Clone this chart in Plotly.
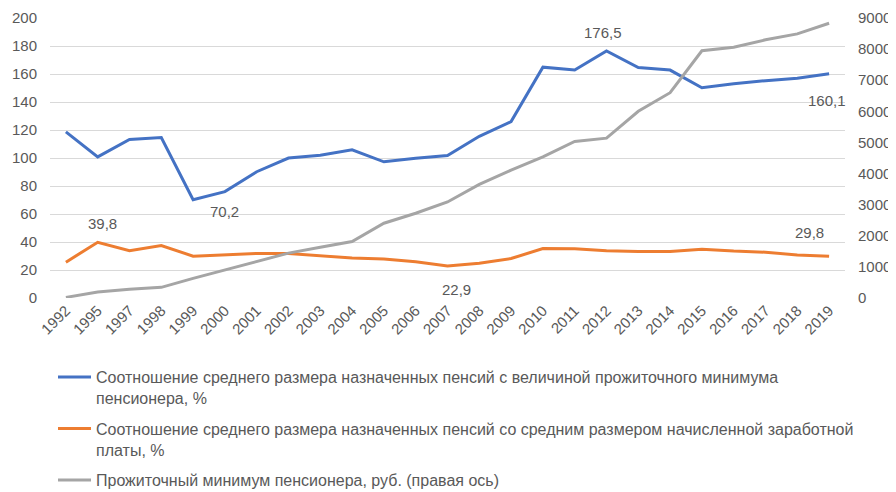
import plotly.graph_objects as go

years = ["1992", "1995", "1997", "1998", "1999", "2000", "2001", "2002", "2003",
         "2004", "2005", "2006", "2007", "2008", "2009", "2010", "2011", "2012",
         "2013", "2014", "2015", "2016", "2017", "2018", "2019"]

pension_to_minimum = [118.7, 100.8, 113.2, 114.6, 70.2, 76.0, 90.2, 100.0, 102.0,
                      105.8, 97.3, 99.9, 101.8, 115.5, 126.0, 164.9, 162.8, 176.5,
                      164.6, 162.8, 150.2, 153.0, 155.2, 157.0, 160.1]

pension_to_wage = [25.6, 39.8, 33.7, 37.5, 29.9, 31.1, 31.8, 31.8, 29.9,
                   28.5, 27.8, 25.9, 22.9, 24.9, 28.2, 35.3, 35.1, 33.7,
                   33.2, 33.2, 34.9, 33.5, 32.7, 30.8, 29.8]

subsistence_minimum = [20, 192, 278, 342, 630, 908, 1175, 1442, 1634,
                       1816, 2403, 2723, 3086, 3652, 4111, 4538, 5030, 5137,
                       6002, 6600, 7946, 8063, 8298, 8490, 8832]

legend_names = [
    "Соотношение среднего размера назначенных пенсий с величиной прожиточного минимума<br>пенсионера, %",
    "Соотношение среднего размера назначенных пенсий со средним размером начисленной заработной<br>платы, %",
    "Прожиточный минимум пенсионера, руб. (правая ось)",
]

# data labels: (series, index, text, x shift, y shift)
point_labels = [
    ("wage", 1, "39,8", 5, 19),
    ("min", 4, "70,2", 31, -12),
    ("min", 17, "176,5", -4, 18),
    ("min", 24, "160,1", -2, -27),
    ("wage", 12, "22,9", 9, -24),
    ("wage", 24, "29,8", -20, 24),
]

TEXT = "#595959"
FONT = "Liberation Sans"
# the page body keeps its default 8px margin, so the figure is 8px smaller
W, H = 888, 484
M_L, M_R, M_T, M_B = 42, 51, 10, 194

fig = go.Figure()
fig.add_trace(go.Scatter(x=years, y=pension_to_minimum, mode="lines",
                         name=legend_names[0], legendgroup="a",
                         line=dict(color="#4472C4", width=3)))
fig.add_trace(go.Scatter(x=years, y=pension_to_wage, mode="lines",
                         name=legend_names[1], legendgroup="b",
                         line=dict(color="#ED7D31", width=3)))
fig.add_trace(go.Scatter(x=years, y=subsistence_minimum, mode="lines",
                         name=legend_names[2], legendgroup="c", yaxis="y2",
                         line=dict(color="#A5A5A5", width=3)))

for key, i, txt, dx, dy in point_labels:
    values = pension_to_wage if key == "wage" else pension_to_minimum
    # category axis: position by category index
    fig.add_annotation(x=i, y=values[i], text=txt, showarrow=False,
                       xshift=dx, yshift=dy,
                       font=dict(family=FONT, size=15, color=TEXT))

plot_w = W - M_L - M_R
plot_h = H - M_T - M_B

fig.update_layout(
    width=W, height=H,
    margin=dict(l=M_L, r=M_R, t=M_T, b=M_B, autoexpand=False),
    paper_bgcolor="white", plot_bgcolor="white",
    font=dict(family=FONT, size=15, color=TEXT),
    showlegend=True,
    legend=dict(
        orientation="v", x=3 / plot_w, xanchor="left",
        y=-62 / plot_h, yanchor="top",
        font=dict(family=FONT, size=16, color=TEXT),
        tracegroupgap=7, valign="top", itemwidth=33,
    ),
    xaxis=dict(type="category", range=[-0.5, len(years) - 0.5], tickangle=-45,
               showgrid=False, showline=False, ticks="", tickfont=dict(size=15),
               automargin=False),
    yaxis=dict(range=[0, 200], dtick=20, gridcolor="#D9D9D9", zeroline=False,
               showline=False, ticks="", ticklabelstandoff=12, automargin=False),
    yaxis2=dict(range=[0, 9000], dtick=1000, overlaying="y", side="right",
                showgrid=False, zeroline=False, showline=False, ticks="",
                ticklabelstandoff=12, automargin=False),
)

fig.write_html("out.html")
